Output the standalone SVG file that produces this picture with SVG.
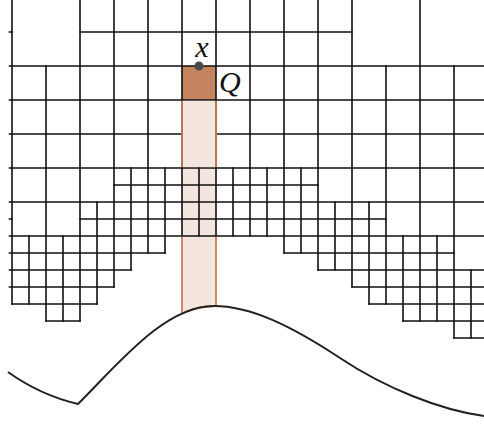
<svg xmlns="http://www.w3.org/2000/svg" width="484" height="424" viewBox="0 0 484 424">
<style>
.g{fill:none;stroke:#111;stroke-width:1.6;stroke-linecap:square}
.edge{fill:none;stroke:#c67f57;stroke-width:1.8}
.curve{fill:none;stroke:#222;stroke-width:2}
.lbl{font-family:"Liberation Serif","DejaVu Serif",serif;font-style:italic;font-size:30px;fill:#111}
.sf{fill:#f5e5df}
</style>
<rect width="484" height="424" fill="#fff"/>
<g id="strip">
<path class="sf" d="M182,100 L216,100 L216,306 Q199,305.7 182,313.5 Z"/>
<rect x="182" y="66" width="34" height="34" fill="#c3845f"/>
</g>
<g id="grid" class="g">
<path d="M80,32H352M9.5,32H12M9.5,66H484M9.5,100H484M9.5,134H484M9.5,168H484M114,185H318M9.5,202H484M80,219H386M9.5,219H12M9.5,236H484M9.5,253H165M284,253H454M9.5,270H131M318,270H484M9.5,287H114M352,287H484M12,304H97M369,304H484M46,321H80M403,321H484M454,338H484"/>
<path d="M12,0V304M29,236V304M46,66V321M63,236V321M80,0V321M97,202V304M114,0V287M131,168V270M148,0V253M165,168V253M182,0V236M199,168V236M216,0V236M233,168V236M250,0V236M267,168V236M284,0V253M301,168V253M318,0V270M335,202V270M352,0V287M369,202V304M386,66V304M403,236V321M420,0V321M437,236V321M454,66V338M471,270V338"/>
</g>
<g id="strip-cover">
<rect class="sf" x="183" y="100.9" width="32" height="66.2"/>
</g>
<g id="connectors">
<path class="edge" d="M182,100.8V167.2M216,100.8V167.2M182,236.8V313.5M216,236.8V306M182,313.5 Q199,305.7 216,306"/>
<path class="curve" d="M8,372 Q40,395 78,404 C120,362 165,306 214,306 C250,306 290,325 340,358 C385,388 440,410 484,416"/>
</g>
<g id="point-x">
<circle cx="199" cy="66" r="4.5" fill="#4a4a4a"/>
<text class="lbl" x="202" y="57" text-anchor="middle">x</text>
</g>
<g id="label-Q">
<text class="lbl" x="219" y="92">Q</text>
</g>
</svg>
